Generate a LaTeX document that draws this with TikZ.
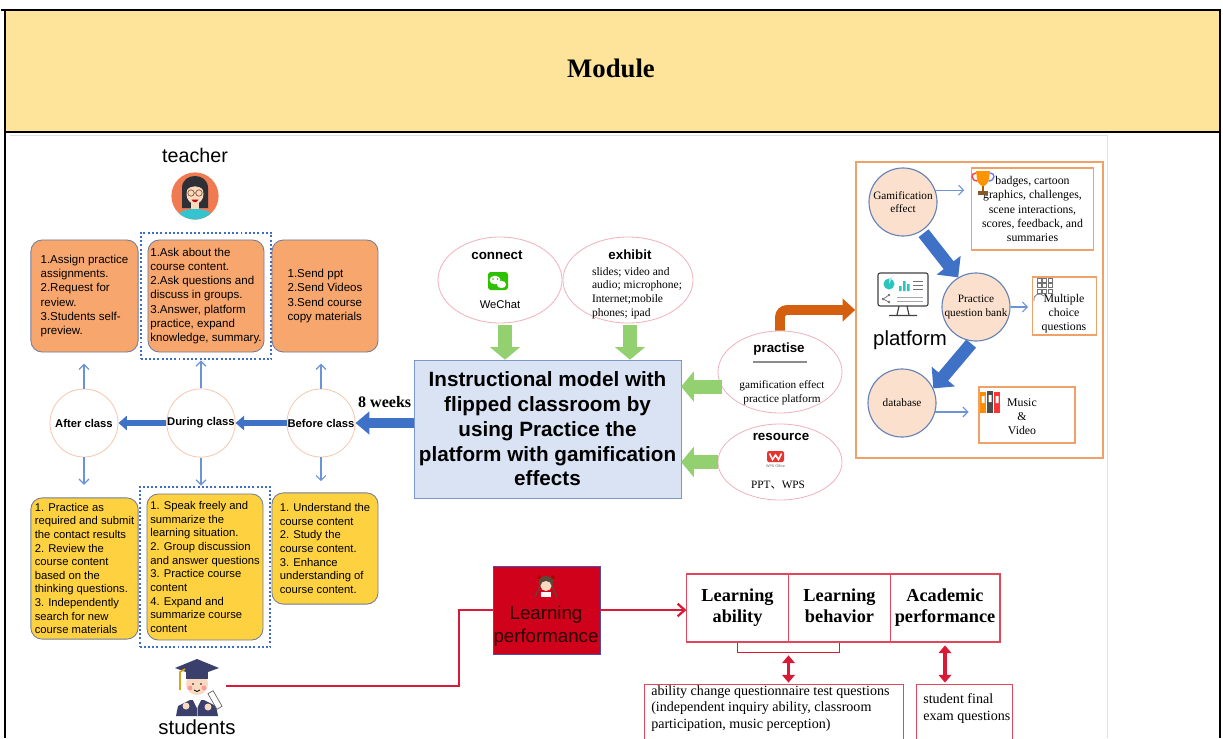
\documentclass[tikz,border=0pt]{standalone}
\usepackage{fontspec}
\setmainfont{Liberation Serif}
\setsansfont{Liberation Sans}
\newfontfamily\cjkfont{Noto Sans CJK SC}
\usepackage{tikz}
\usetikzlibrary{positioning, shapes.geometric, arrows.meta, calc, fit}

\newcommand{\setfs}[2]{\fontsize{#1}{#2}\selectfont}

\definecolor{headyellow}{HTML}{FDE49A}
\definecolor{teachorange}{HTML}{F7A66D}
\definecolor{studyyellow}{HTML}{FDD13F}
\definecolor{boxedge}{HTML}{6F7C99}
\definecolor{dotblue}{HTML}{3D6DC5}
\definecolor{thinblue}{HTML}{6C93D6}
\definecolor{ringpeach}{HTML}{F5C9B3}
\definecolor{flowblue}{HTML}{3F72C7}
\definecolor{leafgreen}{HTML}{93D06F}
\definecolor{ovalpink}{HTML}{EFB3BE}
\definecolor{modelfill}{HTML}{D9E3F4}
\definecolor{modeledge}{HTML}{7C97C9}
\definecolor{rustorange}{HTML}{D4600F}
\definecolor{frameorange}{HTML}{EFA16A}
\definecolor{discfill}{HTML}{FBE1CD}
\definecolor{discedge}{HTML}{6582B6}
\definecolor{perfred}{HTML}{D0021B}
\definecolor{linered}{HTML}{D91A36}
\definecolor{outlinered}{HTML}{E0475A}
\definecolor{faceorange}{HTML}{F07A52}
\definecolor{hairdark}{HTML}{2F3035}
\definecolor{skin}{HTML}{F9D9C0}
\definecolor{tealbody}{HTML}{33C4D0}
\definecolor{capnavy}{HTML}{3A3F6B}
\definecolor{tasselgold}{HTML}{D9A521}
\definecolor{wechatgreen}{HTML}{2DC100}
\definecolor{wpsred}{HTML}{E8342E}
\definecolor{chartteal}{HTML}{2CC5BD}

\begin{document}
\begin{tikzpicture}[x=0.025cm, y=-0.025cm,
    taskbox/.style={draw=boxedge, line width=0.6pt, rounded corners=8pt, align=left, inner sep=1pt, minimum width=2.68cm},
    teachbox/.style={taskbox, fill=teachorange, minimum height=2.8cm, font=\sffamily\setfs{8.2}{10}},
    studybox/.style={taskbox, fill=studyyellow, font=\sffamily\setfs{8}{9.7}},
    groupbox/.style={draw=dotblue, line width=1.4pt, dash pattern=on 1.4pt off 1.6pt, inner sep=5pt},
    phase/.style={circle, draw=ringpeach, line width=0.6pt, fill=white, minimum size=1.7cm, inner sep=0pt, font=\sffamily\bfseries\setfs{8}{9.6}},
    thinarrow/.style={draw=thinblue, line width=0.8pt, -{Straight Barb[length=3.5pt,width=7pt]}},
    flowarrow/.style={draw=flowblue, line width=3.6pt, -{Triangle[length=6pt,width=10pt]}},
    bigarrow/.style={draw=flowblue, line width=6.5pt, -{Triangle[length=10pt,width=16pt]}},
    feedarrow/.style={draw=leafgreen, line width=10pt, -{Triangle[length=9pt,width=21pt]}},
    rustarrow/.style={draw=rustorange, line width=7pt, rounded corners=5pt, -{Triangle[length=9pt,width=16pt]}},
    oval/.style={ellipse, draw=ovalpink, line width=0.6pt, minimum width=3.1cm, minimum height=2.15cm},
    ovaltitle/.style={font=\sffamily\bfseries\setfs{9.5}{11}},
    modelbox/.style={draw=modeledge, fill=modelfill, minimum width=6.48cm, minimum height=3.45cm, align=center, font=\sffamily\bfseries\setfs{14.7}{17.6}},
    disc/.style={circle, draw=discedge, line width=0.8pt, fill=discfill, minimum size=1.7cm, inner sep=0pt, align=center, font=\setfs{8}{9.6}},
    notebox/.style={draw=frameorange, line width=0.8pt, align=center, font=\setfs{8.4}{10}},
    skewarrow/.style={draw=flowblue, line width=9pt, -{Triangle[length=11pt,width=21pt]}},
    redline/.style={draw=linered, line width=1.6pt},
    redbox/.style={draw=outlinered, line width=0.8pt, minimum height=1.7cm, align=center, font=\bfseries\setfs{13}{15}},
    testbox/.style={draw=outlinered, line width=0.8pt},
    bothways/.style={draw=linered, line width=2.8pt, {Triangle[length=5.5pt,width=9pt]}-{Triangle[length=5.5pt,width=9pt]}, shorten <=2pt, shorten >=1pt}
]
\useasboundingbox (0,0) rectangle (1223,738);

% header band and frame
\fill[headyellow] (5,10) rectangle (1220,132);
\draw[black!12] (10,135) -- (1107,135) -- (1107,738);
\draw[line width=2pt] (1,10) -- (1221,10);
\draw[line width=2pt] (5,10) -- (5,738);
\draw[line width=1.5pt] (1220,10) -- (1220,738);
\draw[line width=2pt] (5,132) -- (1220,132);
\node[font=\bfseries\setfs{19}{22}] (module) at (611,68) {Module};

% teacher
\node[font=\sffamily\setfs{14}{16}] (teacherlabel) at (195,155) {teacher};
\node[circle, fill=faceorange, minimum size=1.18cm, inner sep=0pt] (teacher) at (195,196) {};
\begin{scope}
  \clip (195,196) circle (23.5);
  \fill[hairdark] (182,208) -- (182,188) .. controls (182,172) and (208,172) .. (208,188) -- (208,208) -- cycle;
  \fill[skin] (191,200) rectangle (199,211);
  \fill[tealbody] (174,224) .. controls (176,212) and (184,209) .. (195,209) .. controls (206,209) and (214,212) .. (216,224) -- cycle;
  \fill[skin] (195,194) ellipse (8.5 and 10);
  \fill[hairdark] (186,190) .. controls (187,180) and (203,180) .. (204,190) .. controls (199,185) and (191,185) .. cycle;
  \draw[brown!70!black, line width=0.5pt] (191,193) circle (3.2) (199,193) circle (3.2) (194.2,193) -- (195.8,193);
  \fill[red!80!black] (191.5,199.5) .. controls (193,203) and (197,203) .. (198.5,199.5) -- cycle;
\end{scope}

% Row 1: teacher tasks
\node[teachbox] (assign) at (84.5,296) {1.Assign practice\\assignments.\\2.Request for\\review.\\3.Students self-\\preview.};
\node[teachbox, minimum width=2.9cm] (discuss) at (206,296) {1.Ask about the\\course content.\\2.Ask questions and\\discuss in groups.\\3.Answer, platform\\practice, expand\\knowledge, summary.};
\node[teachbox, minimum width=2.65cm] (send) at (325,296) {1.Send ppt\\2.Send Videos\\3.Send course\\copy materials};
\node[groupbox, fit=(discuss)] (discussgroup) {};

% Row 2: phases
\node[phase] (after) at (84,423) {After class};
\node[phase] (during) at (201,423) {During class};
\node[phase] (before) at (321,423) {Before class};

\draw[flowarrow] (before) -- (during);
\draw[flowarrow] (during) -- (after);

% Row 3: student tasks
\node[studybox, minimum height=3.53cm] (practice) at (84.5,568.5) {1. Practice as\\required and submit\\the contact results\\2. Review the\\course content\\based on the\\thinking questions.\\3. Independently\\search for new\\course materials};
\node[studybox, minimum width=2.9cm, minimum height=3.65cm] (speak) at (205,567) {1. Speak freely and\\summarize the\\learning situation.\\2. Group discussion\\and answer questions\\3. Practice course\\content\\4. Expand and\\summarize course\\content};
\node[studybox, minimum width=2.65cm, minimum height=2.78cm] (understand) at (325,548.5) {1. Understand the\\course content\\2. Study the\\course content.\\3. Enhance\\understanding of\\course content.};
\node[groupbox, fit=(speak)] (speakgroup) {};

% thin links from the phases
\draw[thinarrow, shorten >=8pt] (after.north) -- (after.north |- assign.south);
\draw[thinarrow] (during.north) -- (during.north |- discussgroup.south);
\draw[thinarrow, shorten >=8pt] (before.north) -- (before.north |- send.south);
\draw[thinarrow, shorten >=9pt] (after.south) -- (after.south |- practice.north);
\draw[thinarrow] (during.south) -- (during.south |- speakgroup.north);
\draw[thinarrow, shorten >=8pt] (before.south) -- (before.south |- understand.north);

% students
\node[circle, minimum size=1.45cm, inner sep=0pt] (student) at (197,686) {};
\fill[capnavy] (190,700) -- (178,706) -- (176,716) -- (218,716) -- (216,706) -- (204,700) -- cycle;
\draw[tasselgold, line width=0.6pt] (197,701) -- (197,716);
\fill[white] (193,700) -- (197,708) -- (201,700) -- cycle;
\fill[skin] (197,684) ellipse (11 and 11);
\fill[capnavy] (186,672) rectangle (208,679);
\fill[capnavy] (175,668) -- (197,659) -- (219,668) -- (197,676) -- cycle;
\draw[tasselgold, line width=1.2pt] (185,669) -- (180,672) -- (180,690);
\fill[pink!80!red] (190,688) circle (2.4) (204,688) circle (2.4);
\fill[black] (193,684) circle (0.9) (201,684) circle (0.9);
\draw[black, line width=0.5pt] (194,690) .. controls (196,692) and (198,692) .. (200,690);
\fill[skin] (186,706) circle (3.5) (208,707) circle (3.5);
\draw[black!60, fill=white, line width=0.5pt, rotate around={-60:(215,700)}] (206,697) rectangle (224,703);
\node[font=\sffamily\setfs{14.5}{16}] (studentlabel) at (197,727) {students};

% centre: model and its inputs
\node[modelbox] (model) at (547.5,429) {Instructional model with\\flipped classroom by\\using Practice the\\platform with gamification\\effects};
\draw[bigarrow] (model.west |- before.east) -- node[above, font=\bfseries\setfs{11.4}{13}, yshift=4pt] (weeks) {8 weeks} (before.east);

\node[oval] (connect) at (500,280) {};
\node[ovaltitle] (connecttitle) at (497,255) {connect};
\fill[wechatgreen, rounded corners=2pt] (488,272) rectangle (508,290);
\fill[white] (495,280) ellipse (5.5 and 4.3) (501.5,284.5) ellipse (4.6 and 3.6);
\fill[wechatgreen] (493,279) circle (0.8) (497.5,279) circle (0.8);
\node[font=\sffamily\setfs{8}{9.6}] (wechat) at (500,304) {WeChat};

\node[oval, minimum width=3.25cm] (exhibit) at (628,280) {};
\node[ovaltitle] (exhibittitle) at (630,255) {exhibit};
\node[align=left, inner sep=0pt, font=\setfs{8.2}{9.7}] (devices) at (637,293) {slides; video and\\audio; microphone;\\Internet;mobile\\phones; ipad};

\draw[feedarrow] (connect.south) ++(5,2) -- ($(connect.south |- model.north)+(5,0)$);
\draw[feedarrow] (exhibit.south) ++(2,2) -- ($(exhibit.south |- model.north)+(2,0)$);

\node[oval, minimum height=2.05cm] (practise) at (780,372) {};
\node[ovaltitle] (practisetitle) at (779,349) {practise};
\draw[black!45, line width=1pt] (753,362) -- (807,362);
\node[align=center, inner sep=0pt, font=\setfs{8}{10}] (practisebody) at (782,393) {gamification effect\\practice platform};

\node[oval, minimum height=1.9cm] (resource) at (780,462) {};
\node[ovaltitle] (resourcetitle) at (781,437) {resource};
\fill[wpsred, rounded corners=1.5pt] (767,451) rectangle (784,462);
\draw[white, line width=1.1pt] (769.5,453.5) -- (772.5,459.5) -- (775.5,455) -- (778.5,459.5) -- (781.5,453.5);
\node[font=\sffamily\setfs{2.6}{3}, text=black!60, inner sep=0pt] (wpslogo) at (775.5,466) {WPS Office};
\node[font=\setfs{8}{10}] (formats) at (778,485) {PPT{\cjkfont 、}WPS};

\draw[feedarrow] (practise.194) -- (practise.194 -| model.east);
\draw[feedarrow] (resource.west) -- (resource.west -| model.east);

% platform
\node[draw=frameorange, line width=1pt, minimum width=6.18cm, minimum height=7.4cm] (platform) at (979.5,310) {};
\draw[rustarrow] (practise.north) |- (platform.west);

\node[disc] (gamify) at (903,202) {Gamification\\effect};
\node[disc] (bank) at (976,307) {Practice\\question bank};
\node[disc] (database) at (902,403) {database};

\node[notebox, minimum width=3.03cm, minimum height=2.05cm] (badges) at (1032.5,209) {badges, cartoon\\graphics, challenges,\\scene interactions,\\scores, feedback, and\\summaries};
\node[notebox, minimum width=1.58cm, minimum height=1.45cm] (choice) at (1064.5,306) {};
\node[align=center, inner sep=0pt, font=\setfs{8.4}{10}] (choicetext) at (1064,314) {Multiple\\choice\\questions};
\node[notebox, minimum width=2.4cm, minimum height=1.4cm] (media) at (1027,415) {};
\node[align=center, inner sep=0pt, font=\setfs{8.4}{10}] (mediatext) at (1022,417) {Music\\\&\\Video};

\draw[thinarrow, shorten >=5pt] (gamify.20) -- (gamify.20 -| badges.west);
\draw[thinarrow, shorten >=3pt] (bank.east) -- (bank.east -| choice.west);
\draw[thinarrow, shorten >=7pt] (database.-15) -- (database.-15 -| media.west);
\draw[skewarrow, shorten <=2pt] (gamify.-57) -- (bank.121);
\draw[skewarrow, shorten <=2pt] (bank.-95) -- (database.25);

% trophy
\draw[red!75, line width=1pt] (976,173) .. controls (970,173) and (971,181) .. (977.5,181);
\draw[blue!55, line width=1pt] (990,173) .. controls (996,173) and (995,181) .. (988.5,181);
\fill[orange!85!yellow] (976,171) -- (990,171) -- (989,179) .. controls (988,184) and (985,186) .. (983,186) .. controls (981,186) and (978,184) .. (977,179) -- cycle;
\fill[orange!70!black] (982,186) rectangle (984,191);
\fill[brown!70!black] (978,191) rectangle (988,195);

% monitor
\draw[black!75, line width=0.8pt, rounded corners=1.5pt] (878,273) rectangle (928,306);
\draw[black!75, line width=0.8pt] (899,306) -- (897,315) (907,306) -- (909,315) (889,315.5) -- (917,315.5);
\fill[chartteal] (889,284) circle (5.5);
\fill[chartteal!40] (889,284) -- (889,278.5) arc (90:0:5.5) -- cycle;
\fill[chartteal] (899,291) rectangle (901.5,286) (903,291) rectangle (905.5,281) (907,291) rectangle (909.5,284);
\draw[black!55, line width=0.6pt] (913,281) -- (923,281) (913,285) -- (923,285) (913,289) -- (923,289);
\draw[black!55, line width=0.5pt] (883,299) -- (889,295) (883,299) -- (889,302);
\fill[black!55] (883,299) circle (1.3) (889,295) circle (1.3) (889,302) circle (1.3);
\draw[black!35, line width=0.6pt] (897,297) -- (923,297) (897,301) -- (923,301);
\node[font=\sffamily\setfs{14.5}{16}] (platformlabel) at (910,340) {platform};

% answer grid
\foreach \i in {0,1,2}
  \foreach \j in {0,1,2}
    \draw[black!55, line width=0.4pt] (1037+\i*5.5,278+\j*5.5) rectangle ++(3.8,3.8);
\draw[black!55, line width=0.5pt] (1034,301) .. controls (1033,294) and (1040,292) .. (1044,296);

% binders
\fill[orange!90!yellow] (980,392) rectangle (986,413);
\fill[black!70] (987,391) rectangle (993,413);
\fill[red!80] (994,392) rectangle (1000,413);
\fill[white] (981.5,396) rectangle (984.5,403) (988.5,395) rectangle (991.5,402) (995.5,396) rectangle (998.5,403);

% bottom: learning performance
\node[draw=blue!40!gray, fill=perfred, minimum width=2.68cm, minimum height=2.2cm] (perf) at (546.5,610) {};
\fill[hairdark!70!brown] (546,582) ellipse (7.5 and 6);
\draw[hairdark!70!brown, line width=0.9pt] (540,586) -- (535,597) (552,586) -- (557,597);
\fill[skin] (546,586) ellipse (5.5 and 5);
\fill[red!70!black] (539,577) circle (2) (553,577) circle (2);
\fill[white!85!pink] (541,592) rectangle (551,597);
\node[align=center, inner sep=0pt, text=black!85!red, font=\sffamily\setfs{13.3}{16.4}] (perftext) at (546,626) {Learning\\performance};
\draw[redline] (student.east) -- ++(233,0) |- (perf.west);

\node[redbox, minimum width=2.53cm] (ability) at (737.5,608) {Learning\strut\\ability\strut};
\node[redbox, minimum width=2.55cm] (behavior) at (839.5,608) {Learning\strut\\behavior\strut};
\node[redbox, minimum width=2.7cm] (academic) at (945,608) {Academic\strut\\performance\strut};
\draw[redline, -{Straight Barb[length=5pt,width=9pt]}] (perf.east) -- (perf.east -| ability.west);
\draw[redline, line width=1pt] (ability.south) -- ++(0,10) -| (behavior.south);

\node[testbox, anchor=north west, minimum width=6.48cm, minimum height=2cm] (abilitytest) at (644,684) {};
\node[anchor=north west, align=left, inner sep=0pt, font=\setfs{10}{12}] (abilitytext) at (651,685) {ability change questionnaire test questions\\(independent inquiry ability, classroom\\participation, music perception)};
\node[testbox, anchor=north west, minimum width=2.4cm, minimum height=2cm] (examtest) at (916,684) {};
\node[anchor=north west, align=left, inner sep=0pt, font=\setfs{10}{12}] (examtext) at (923,693) {student final\\exam questions};

\coordinate (brk) at ($(ability.south)!0.5!(behavior.south)+(0,10)$);
\draw[bothways] (brk) -- (brk |- abilitytest.north);
\draw[bothways] (academic.south) -- (academic.south |- examtest.north);

\end{tikzpicture}
\end{document}
